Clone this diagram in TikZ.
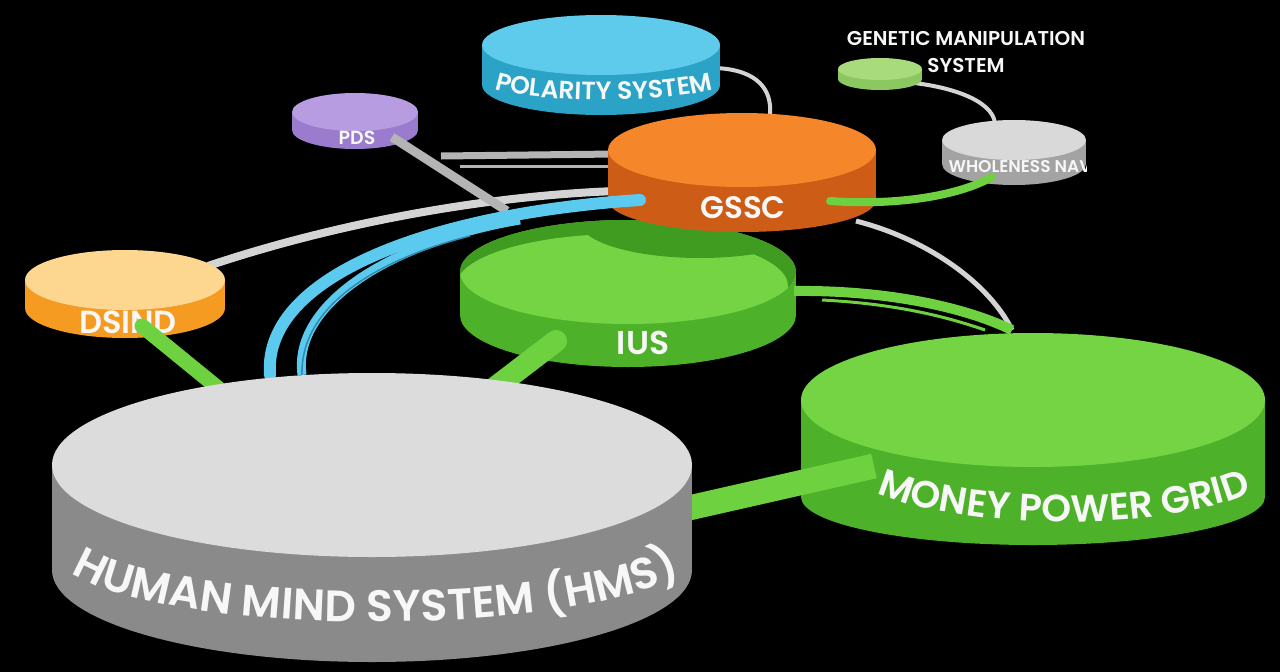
\documentclass[tikz,border=0pt]{standalone}
\usepackage{fontspec}
\setmainfont{Poppins}[BoldFont={* SemiBold}]
\usetikzlibrary{decorations.text}
\definecolor{hmsTop}{HTML}{DCDCDC}
\definecolor{hmsSide}{HTML}{8A8A8A}
\definecolor{grnTop}{HTML}{74D444}
\definecolor{grnSide}{HTML}{4DB22A}
\definecolor{grnDark}{HTML}{3F9C21}
\definecolor{orTop}{HTML}{F5862A}
\definecolor{orSide}{HTML}{CC5C16}
\definecolor{blTop}{HTML}{5ECBEC}
\definecolor{blSide}{HTML}{2AA3C6}
\definecolor{puTop}{HTML}{B89CE2}
\definecolor{puSide}{HTML}{9A7BCD}
\definecolor{lgTop}{HTML}{A8DB7C}
\definecolor{lgSide}{HTML}{8CC862}
\definecolor{wnTop}{HTML}{D9D9D9}
\definecolor{wnSide}{HTML}{A3A3A3}
\definecolor{dsTop}{HTML}{FDD690}
\definecolor{dsSide}{HTML}{F59B22}
\definecolor{linkGreen}{HTML}{6DD140}
\definecolor{linkGray}{HTML}{D4D4D4}
\definecolor{linkDark}{HTML}{B4B4B4}
\definecolor{linkBlue}{HTML}{5CCAEE}
\definecolor{linkBlueDk}{HTML}{2C8DB0}
\definecolor{labelWhite}{HTML}{F7F7F7}
\newcommand\discshape[8]{%
  \fill[#8] (#1,#2+#5) ellipse ({#3} and {#6});
  \fill[#8] (#1-#3,#2) rectangle (#1+#3,#2+#5);
  \fill[#7] (#1,#2) ellipse ({#3} and {#4});
}
\newcommand\hmsfont{\fontsize{44}{44}\selectfont\bfseries}
\newcommand\mpgfont{\fontsize{38}{38}\selectfont\bfseries}
\newcommand\polfont{\fontsize{25}{25}\selectfont\bfseries}
\begin{document}
\begin{tikzpicture}[x=1pt,y=-1pt,
  sidetext/.style={text=labelWhite, inner sep=0pt, font=\bfseries},
  greenlink/.style={draw=linkGreen},
  graylink/.style={draw=linkGray},
  darklink/.style={draw=linkDark},
  bluelink/.style={draw=linkBlue}]
\useasboundingbox (0,0) rectangle (1280,672);
\fill[black] (0,0) rectangle (1280,672);

% connector end points
\coordinate (gmOut) at (905,82);
\coordinate (wnIn) at (995,123);
\coordinate (polOut) at (716,68);
\coordinate (gsscTop) at (770,114);
\coordinate (dsOut) at (208,266);
\coordinate (gsscLeft) at (616,191);
\coordinate (gsscRight) at (856,221);
\coordinate (mpgTop) at (1012,330);
\coordinate (pdsJoin) at (441,156);
\coordinate (pdsJoinB) at (460,166);
\coordinate (gsscL1) at (616,154);
\coordinate (gsscL2) at (616,166);
\coordinate (pdsOut) at (392,137);
\coordinate (pdsEnd) at (507,211);
\coordinate (iusRight) at (794,291);
\coordinate (iusRightB) at (822,300);
\coordinate (mpgTopB) at (985,330);
\coordinate (gsscBlue) at (640,200);
\coordinate (blueSplit) at (520,220);
\coordinate (hmsBlueA) at (270,375);
\coordinate (hmsBlueB) at (302,375);
\coordinate (gsscGreen) at (830,201);
\coordinate (wnGreen) at (992,177);
\coordinate (dsGreen) at (142,326);
\coordinate (hmsGreenA) at (218,388);
\coordinate (iusGreen) at (556,341);
\coordinate (hmsGreenB) at (492,390);
\coordinate (mpgGreen) at (874,466);
\coordinate (hmsGreenC) at (680,510);

% back connectors
\draw[graylink, line width=4] (gmOut) .. controls (950,86) and (992,100) .. (wnIn);
\draw[graylink, line width=4] (polOut) .. controls (758,70) and (772,90) .. (gsscTop);
\draw[graylink, line width=8] (dsOut) .. controls (330,225) and (480,196) .. (gsscLeft);
\draw[graylink, line width=5] (gsscRight) .. controls (930,240) and (990,285) .. (mpgTop);
\draw[darklink, line width=7] (pdsJoin) -- (gsscL1);
\draw[darklink, line width=3] (pdsJoinB) -- (gsscL2);

% small discs
\discshape{880}{69}{42}{11}{10}{11}{lgTop}{lgSide}
\discshape{1014}{140}{72}{20}{24}{21}{wnTop}{wnSide}
\discshape{601}{45}{119}{30}{40}{30}{blTop}{blSide}
\discshape{355}{112}{63}{19}{18}{19}{puTop}{puSide}
\discshape{125}{280}{100}{30}{28}{30}{dsTop}{dsSide}

\begin{scope}
  \clip (942,140) rectangle (1086,195);
  \node[sidetext, font=\fontsize{17}{17}\selectfont\bfseries] (wnLabel) at (1020,167) {WHOLENESS NAV};
\end{scope}
\node[sidetext, font=\fontsize{19}{19}\selectfont\bfseries] (pdsLabel) at (357,138) {PDS};
\node[sidetext, font=\fontsize{32}{32}\selectfont\bfseries] (dsLabel) at (128,322) {DSIND};
\path[decorate, decoration={text along path, text align=center, text color=labelWhite,
  text={|\polfont|POLARITY SYSTEM}}]
  plot[domain=176:4, samples=40] ({604+122*cos(\x)},{80+20*sin(\x)});

\draw[darklink, line width=9] (pdsOut) -- (pdsEnd);

% IUS disc
\discshape{628}{272}{168}{52}{43}{52}{grnTop}{grnSide}
\begin{scope}
  \clip (628,272) ellipse (168 and 52);
  \fill[grnDark] (628,272) ellipse (168 and 52);
  \fill[grnTop] (622,286) ellipse (166 and 52);
  \fill[grnDark] (700,222) ellipse (120 and 36);
\end{scope}
\node[sidetext, font=\fontsize{33}{33}\selectfont\bfseries] (iusLabel) at (643,343) {IUS};

% IUS -> MPG
\draw[greenlink, line width=10] (iusRight) .. controls (880,290) and (960,305) .. (mpgTop);
\draw[greenlink, line width=3] (iusRightB) .. controls (900,304) and (950,318) .. (mpgTopB);

% MPG disc
\discshape{1033}{400}{232}{67}{97}{48}{grnTop}{grnSide}
\path[decorate, decoration={text along path, text align=center, text color=labelWhite,
  text={|\mpgfont|MONEY POWER GRID}}]
  plot[domain=170:10, samples=50] ({1064+232*cos(\x)},{451+71*sin(\x)});

% GSSC disc
\discshape{742}{150}{134}{37}{50}{32}{orTop}{orSide}
\node[sidetext, font=\fontsize{31}{31}\selectfont\bfseries] (gsscLabel) at (743,208) {GSSC};

% blue links
\draw[bluelink, line width=12, line cap=round] (gsscBlue) .. controls (450,212) and (262,270) .. (hmsBlueA);
\draw[bluelink, line width=9] (blueSplit) .. controls (400,240) and (292,300) .. (hmsBlueB);
\draw[draw=linkBlueDk, line width=1.5] (470,236) .. controls (390,256) and (300,300) .. (hmsBlueB);

% green links
\draw[greenlink, line width=8, line cap=round] (gsscGreen) .. controls (900,206) and (960,195) .. (wnGreen);
\draw[greenlink, line width=15, line cap=round] (dsGreen) -- (hmsGreenA);
\draw[greenlink, line width=22, line cap=round] (iusGreen) -- (hmsGreenB);
\draw[greenlink, line width=25] (mpgGreen) -- (hmsGreenC);

% HMS disc
\discshape{372}{465}{320}{92}{105}{92}{hmsTop}{hmsSide}
\path[decorate, decoration={text along path, text align=center, text color=labelWhite,
  text={|\hmsfont|HUMAN MIND SYSTEM (HMS)}}]
  plot[domain=174:6, samples=60] ({376+322*cos(\x)},{550+72*sin(\x)});

% label of the small green disc
\node[align=center, text=labelWhite, inner sep=0pt, font=\fontsize{20}{27}\selectfont\bfseries] (gmLabel) at (966,52) {GENETIC MANIPULATION\\SYSTEM};
\end{tikzpicture}
\end{document}
